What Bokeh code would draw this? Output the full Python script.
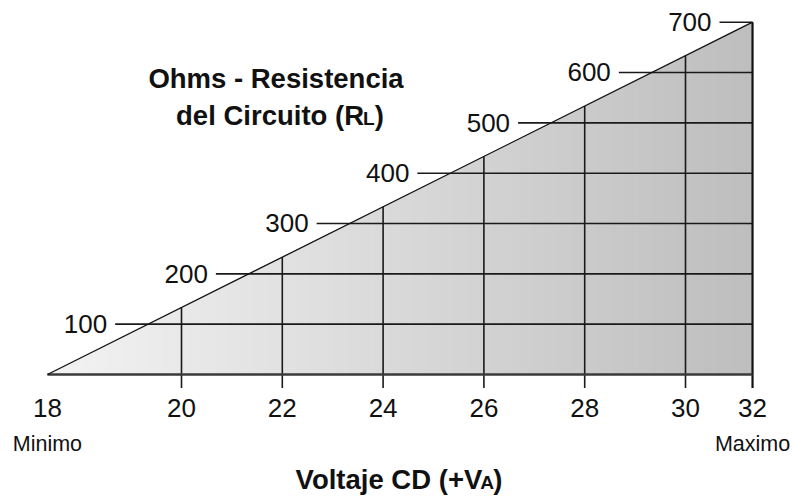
import numpy as np
from bokeh.plotting import figure
from bokeh.models import Range1d
from bokeh.core.properties import value
from bokeh.embed import file_html
from bokeh.resources import INLINE

# ---------------- data ----------------
volt_labels = ["18", "20", "22", "24", "26", "28", "30", "32"]
volt_grid = [20, 22, 24, 26, 28, 30]          # interior voltage lines
volt_min_pos = 17.34                           # where "18" (Minimo) sits on the schematic axis
volt_max_pos = 31.33                           # where "32" (Maximo) sits on the schematic axis
ohm_levels = [100, 200, 300, 400, 500, 600, 700]
ohm_labels = ["100", "200", "300", "400", "500", "600", "700"]
ohm_max = 700
end_labels = ["Minimo", "Maximo"]
title_line1 = [("Ohms - Resistencia", 1.0, 0)]
title_line2 = [("del Circuito (R", 1.0, 0), ("L", 0.7, -1), (")", 1.0, 0)]
xaxis_title = [("Voltaje CD (+V", 1.0, 0), ("A", 0.7, -4), (")", 1.0, -1)]

# ---------------- figure ----------------
W, H = 794, 497
sx = 50.4             # px per volt-unit
sy = 352.3 / 700      # px per ohm
x0 = 20 - 181 / sx
x1 = x0 + W / sx
y1 = 374 / sy
y0 = y1 - H / sy
BL = 0.36             # baseline correction (fraction of font size)

p = figure(width=W, height=H, output_backend="svg", toolbar_location=None,
           x_range=Range1d(x0, x1), y_range=Range1d(y0, y1),
           x_axis_location=None, y_axis_location=None, min_border=0,
           background_fill_color="white", border_fill_color="white")
p.min_border_left = p.min_border_right = p.min_border_top = p.min_border_bottom = 0
p.outline_line_color = None
p.xgrid.visible = False
p.ygrid.visible = False

def hyp_x(h):
    return volt_min_pos + (volt_max_pos - volt_min_pos) * h / ohm_max

def hyp_h(v):
    return ohm_max * (v - volt_min_pos) / (volt_max_pos - volt_min_pos)

def py_to_y(py):
    return (374 - py) / sy

# gradient fill of the triangle (light left -> darker right)
n = 160
starts = np.linspace(volt_min_pos, volt_max_pos, n, endpoint=False)
xs, ys, cols = [], [], []
for i, xa in enumerate(starts):
    xs.append([xa, xa, volt_max_pos, volt_max_pos])
    ys.append([0, hyp_h(xa), ohm_max, 0])
    f = i / (n - 1)
    c = int(round(243 - f * (243 - 190)))
    cols.append("#%02x%02x%02x" % (c, c, c))
p.patches(xs=xs, ys=ys, fill_color=cols, line_color=None)

tick_len = 13.5 / sy
line_col = "#1a1a1a"

# horizontal ohm lines (start 33px left of the hypotenuse, run to the right edge)
off = 33 / sx
h_x0 = [hyp_x(h) - off for h in ohm_levels]
p.segment(x0=h_x0, y0=ohm_levels, x1=[volt_max_pos] * len(ohm_levels), y1=ohm_levels,
          line_color=line_col, line_width=1.6)

# vertical voltage lines (tick below base, up to hypotenuse)
p.segment(x0=volt_grid, y0=[-tick_len] * len(volt_grid), x1=volt_grid,
          y1=[hyp_h(v) for v in volt_grid], line_color=line_col, line_width=1.6)

# right edge
p.segment(x0=[volt_max_pos], y0=[-tick_len], x1=[volt_max_pos], y1=[ohm_max],
          line_color="#111111", line_width=2.2)
# base line
p.segment(x0=[volt_min_pos], y0=[0], x1=[volt_max_pos], y1=[0],
          line_color="#3a3a3a", line_width=2.4)
# hypotenuse
p.line(x=[volt_min_pos, volt_max_pos], y=[0, ohm_max], line_color="#111111", line_width=1.3)

FONT = value("Liberation Sans")

# ohm labels
p.text(x=[x - 8 / sx for x in h_x0],
       y=[h - (9.3 - BL * 26) / sy for h in ohm_levels], text=ohm_labels,
       text_align="right", text_baseline="alphabetic", text_font=FONT,
       text_font_size="26px", text_color="#111111")

# voltage labels
volt_pos = [volt_min_pos] + volt_grid + [volt_max_pos]
p.text(x=volt_pos, y=[py_to_y(416.7 - BL * 26)] * len(volt_pos), text=volt_labels,
       text_align="center", text_baseline="alphabetic", text_font=FONT,
       text_font_size="26px", text_color="#111111")

# Minimo / Maximo
p.text(x=[volt_min_pos, volt_max_pos], y=[py_to_y(451.7 - BL * 21.5)] * 2, text=end_labels,
       text_align="center", text_baseline="alphabetic", text_font=FONT,
       text_font_size="21.5px", text_color="#111111")

# composite bold labels with small subscripts
ARIAL_BOLD = {' ': 278, '(': 333, ')': 333, '+': 584, '-': 333, 'A': 722, 'C': 722, 'D': 722,
              'L': 611, 'O': 778, 'R': 722, 'V': 667, 'a': 556, 'c': 556, 'd': 611, 'e': 556,
              'h': 611, 'i': 278, 'j': 278, 'l': 278, 'm': 889, 'n': 611, 'o': 611, 'r': 389,
              's': 556, 't': 333, 'u': 611}

def draw_pieces(pieces, center_px, baseline_px, size):
    widths = [sum(ARIAL_BOLD.get(ch, 556) for ch in t) / 1000 * size * s + adj
              for t, s, adj in pieces]
    total = sum(widths)
    cur = center_px - total / 2
    for (t, s, adj), w in zip(pieces, widths):
        fs = size * s
        xd = x0 + (cur + adj) / sx
        yd = py_to_y(baseline_px - BL * fs)
        p.text(x=[xd], y=[yd], text=[t], text_align="left", text_baseline="alphabetic",
               text_font=FONT, text_font_style="bold", text_font_size="%.1fpx" % fs,
               text_color="#111111")
        cur += w

draw_pieces(title_line1, 275.5, 88, 27.5)
draw_pieces(title_line2, 279.5, 124.5, 27.5)
draw_pieces(xaxis_title, 398.5, 488.5, 27.5)

open("out.html", "w").write(file_html(p, INLINE))
